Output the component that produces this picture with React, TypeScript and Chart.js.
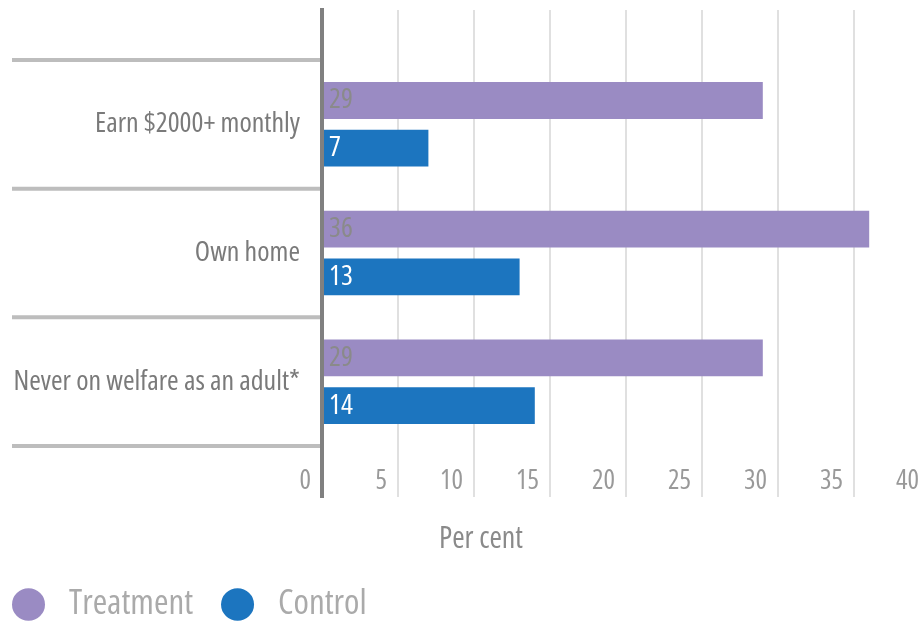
import React, { useEffect, useRef } from 'react';
import { Chart, registerables } from 'chart.js';

Chart.register(...registerables);

const categories = ['Earn $2000+ monthly', 'Own home', 'Never on welfare as an adult*'];
const treatment = [29, 36, 29];
const control = [7, 13, 14];
const seriesNames = ['Treatment', 'Control'];
const xMin = 0;
const xMax = 40;
const xStep = 5;
const axisTitle = 'Per cent';

const FONT = "'Open Sans', 'DejaVu Sans Condensed', sans-serif";
const STRETCH = 'condensed';
const seriesColors = ['#9a8bc3', '#1c75bf'];
const valueLabelColors = ['#8a8a8a', '#ffffff'];

export default function App() {
  const ref = useRef<HTMLCanvasElement>(null);

  useEffect(() => {
    const canvas = ref.current;
    if (!canvas) return;

    const separators = {
      id: 'separators',
      beforeDatasetsDraw(chart: any) {
        const y = chart.scales.y;
        const ctx = chart.ctx;
        ctx.save();
        ctx.strokeStyle = '#bdbdbd';
        ctx.lineWidth = 4;
        for (let i = 0; i <= categories.length; i++) {
          const py = y.getPixelForValue(i - 0.5);
          ctx.beginPath();
          ctx.moveTo(y.left + 2, py);
          ctx.lineTo(chart.chartArea.left, py);
          ctx.stroke();
        }
        ctx.restore();
      },
    };

    const valueLabels = {
      id: 'valueLabels',
      afterDatasetsDraw(chart: any) {
        const ctx = chart.ctx;
        ctx.save();
        ctx.font = `${STRETCH} 28px ${FONT}`;
        ctx.textBaseline = 'middle';
        ctx.textAlign = 'left';
        chart.data.datasets.forEach((ds: any, di: number) => {
          const meta = chart.getDatasetMeta(di);
          meta.data.forEach((el: any, i: number) => {
            const p = el.getProps(['base', 'y'], true);
            ctx.fillStyle = valueLabelColors[di];
            ctx.fillText(String(ds.data[i].x), p.base + 6, p.y);
          });
        });
        ctx.restore();
      },
    };

    const chart = new Chart(canvas, {
      type: 'bar',
      data: {
        datasets: [
          {
            label: seriesNames[0],
            data: treatment.map((v, i) => ({ x: v, y: i })),
            backgroundColor: seriesColors[0],
            borderWidth: 0,
          },
          {
            label: seriesNames[1],
            data: control.map((v, i) => ({ x: v, y: i })),
            backgroundColor: seriesColors[1],
            borderWidth: 0,
          },
        ],
      },
      options: {
        responsive: false,
        animation: false,
        devicePixelRatio: 1,
        indexAxis: 'y',
        layout: { padding: { top: 2, left: 2, right: 0, bottom: 0 } },
        datasets: { bar: { categoryPercentage: 0.741, barPercentage: 0.774 } } as any,
        scales: {
          x: {
            type: 'linear',
            position: 'bottom',
            min: xMin,
            max: xMax,
            ticks: {
              stepSize: xStep,
              align: 'end',
              mirror: true,
              labelOffset: -11,
              padding: -1,
              color: '#999999',
              font: { family: FONT, size: 27, weight: STRETCH },
              maxRotation: 0,
              autoSkip: false,
            },
            grid: { color: '#e0e0e0', lineWidth: 2, drawTicks: false },
            border: { display: false },
            afterFit: (s: any) => {
              s.height = 0;
              s.paddingLeft = 0;
              s.paddingRight = 0;
            },
          },
          y: {
            type: 'linear',
            position: 'left',
            reverse: true,
            offset: false,
            min: -0.8876,
            max: 2.8953,
            bounds: 'data',
            afterBuildTicks: (s: any) => {
              s.ticks = categories.map((_, i) => ({ value: i }));
            },
            ticks: {
              callback: (v: any) => categories[v],
              padding: 22,
              color: '#7a7a7a',
              font: { family: FONT, size: 28, weight: STRETCH },
            },
            grid: { display: false, drawTicks: false, offset: false },
            border: { display: true, color: '#808080', width: 4, z: 1 },
            afterFit: (s: any) => {
              s.width = 312;
              s.paddingTop = 0;
              s.paddingBottom = 0;
            },
          },
          y2: {
            type: 'linear',
            position: 'right',
            display: true,
            grid: { display: false, drawTicks: false },
            ticks: { display: false },
            border: { display: false },
            afterFit: (s: any) => {
              s.width = 22;
              s.paddingTop = 0;
              s.paddingBottom = 0;
            },
          },
        } as any,
        plugins: {
          tooltip: { enabled: false },
          title: {
            display: true,
            text: axisTitle,
            position: 'bottom',
            weight: 100,
            color: '#8a8a8a',
            font: { family: FONT, size: 30, weight: STRETCH },
            padding: { top: 24, bottom: 28 },
          } as any,
          legend: {
            display: true,
            position: 'bottom',
            align: 'start',
            labels: {
              usePointStyle: true,
              pointStyle: 'circle',
              pointStyleWidth: 33,
              boxHeight: 23,
              padding: 2,
              color: '#aaaaaa',
              font: { family: FONT, size: 35, weight: STRETCH },
              generateLabels: (c: any) => {
                const items = Chart.defaults.plugins.legend.labels.generateLabels(c);
                return items.map((it: any, i: number) => ({
                  ...it,
                  text: ' ' + it.text + (i < items.length - 1 ? '    ' : ''),
                }));
              },
            },
          } as any,
        },
      },
      plugins: [separators, valueLabels],
    });

    return () => chart.destroy();
  }, []);

  return (
    <div
      style={{
        position: 'fixed',
        left: 8,
        top: 8,
        width: 916,
        height: 614,
        overflow: 'hidden',
        background: '#ffffff',
      }}
    >
      <canvas ref={ref} width={944} height={624} style={{ display: 'block', width: 944, height: 624 }} />
    </div>
  );
}
